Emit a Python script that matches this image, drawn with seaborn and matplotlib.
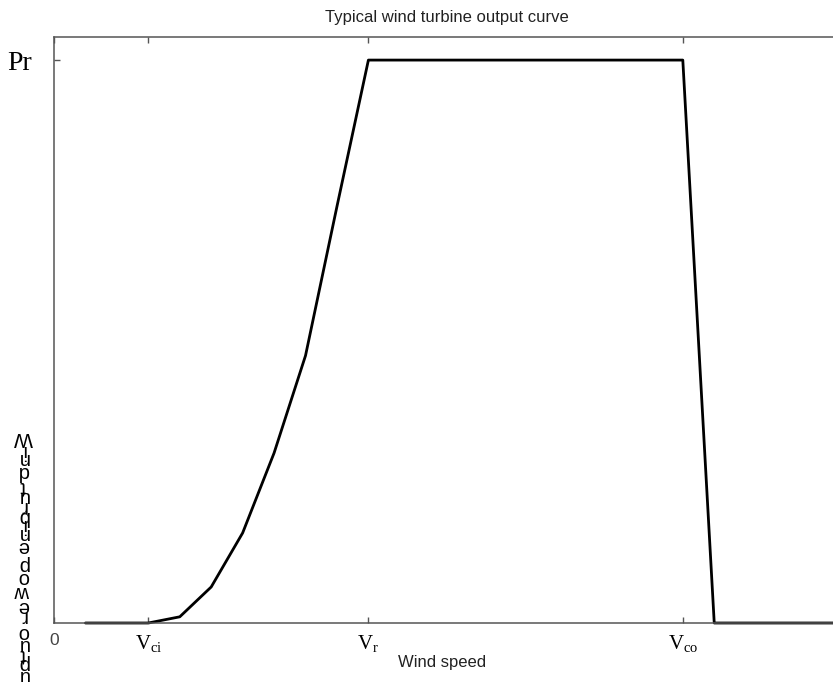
import matplotlib
matplotlib.use("Agg")
import numpy as np
import pandas as pd
import seaborn as sns
import matplotlib.pyplot as plt

# Power curve: wind speed (m/s) vs. output as a fraction of rated power
wind_speed = [1, 2, 3, 4, 5, 6, 7, 8, 9, 10, 20, 21, 25]
power = [0, 0, 0, 0.011, 0.064, 0.16, 0.302, 0.475, 0.74, 1.0, 1.0, 0, 0]

x_ticks = [0, 3, 10, 20]
x_tick_labels = ["0", r"$\mathrm{V_{ci}}$", r"$\mathrm{V_{r}}$", r"$\mathrm{V_{co}}$"]
y_ticks = [1.0]
y_tick_labels = ["Pr"]

title_text = "Typical wind turbine output curve"
xlabel_text = "Wind speed"
ylabel_text = "Wind turbine power output"

sns.set_theme(style="white")
plt.rcParams["font.family"] = ["Liberation Sans", "DejaVu Sans"]
plt.rcParams["mathtext.fontset"] = "custom"
plt.rcParams["mathtext.rm"] = "Liberation Serif"
plt.rcParams["mathtext.it"] = "Liberation Serif:italic"

W, H = 833, 682
fig = plt.figure(figsize=(W / 100, H / 100), dpi=100)
fig.patch.set_facecolor("white")

# axes box: left spine at x=54 px, top at 37 px, bottom at 623 px; right edge runs off the canvas
ax = fig.add_axes([54 / W, (H - 623) / H, (840 - 54) / W, (623 - 37) / H])

df = pd.DataFrame({"speed": wind_speed, "power": power})
sns.lineplot(data=df, x="speed", y="power", ax=ax, color="black",
             linewidth=2.0, sort=False, estimator=None, clip_on=False)

ax.set_xlim(0, 25)
ax.set_ylim(0, 1.041)

spine_color = "#555555"
for s in ax.spines.values():
    s.set_color(spine_color)
    s.set_linewidth(1.1)

ax.set_xticks(x_ticks)
ax.set_xticklabels(x_tick_labels)
ax.set_yticks(y_ticks)
ax.set_yticklabels(y_tick_labels)

ax.tick_params(axis="both", which="both", direction="in", length=4.5, width=1.0,
               color=spine_color, top=True, right=True, bottom=True, left=True)
ax.tick_params(axis="x", pad=7, labelsize=15, labelcolor="black")
ax.tick_params(axis="y", pad=16, labelsize=20, labelcolor="black")

for lbl in ax.get_xticklabels():
    if lbl.get_text() == "0":
        lbl.set_fontfamily("Liberation Sans")
        lbl.set_fontsize(12.5)
        lbl.set_color("#444444")
for lbl in ax.get_yticklabels():
    lbl.set_fontfamily("Liberation Serif")

ax.set_title(title_text, fontsize=12, color="#222222", pad=11)
ax.set_xlabel(xlabel_text, fontsize=12, color="#222222")
ax.xaxis.set_label_coords((442 - 54) / 786, -(655 - 623) / 586)
ax.set_ylabel("")

# vertical label: glyphs stacked top-to-bottom, each turned upside down
advance = {"W": .944, "i": .222, "n": .556, "d": .556, " ": .278, "t": .278,
           "u": .556, "r": .333, "b": .556, "e": .556, "p": .556, "o": .556,
           "w": .722}
em_px = 22.45
pos = 0.0
first_center = advance[ylabel_text[0]] / 2
for ch in ylabel_text:
    w = advance.get(ch, .556)
    if ch != " ":
        yc = 437 + (pos + w / 2 - first_center) * em_px
        fig.text(23 / W, 1 - yc / H, ch, rotation=180, ha="center", va="center",
                 fontsize=14.5, color="black", family="Liberation Sans")
    pos += w

fig.savefig("out.png", dpi=100, facecolor="white")
